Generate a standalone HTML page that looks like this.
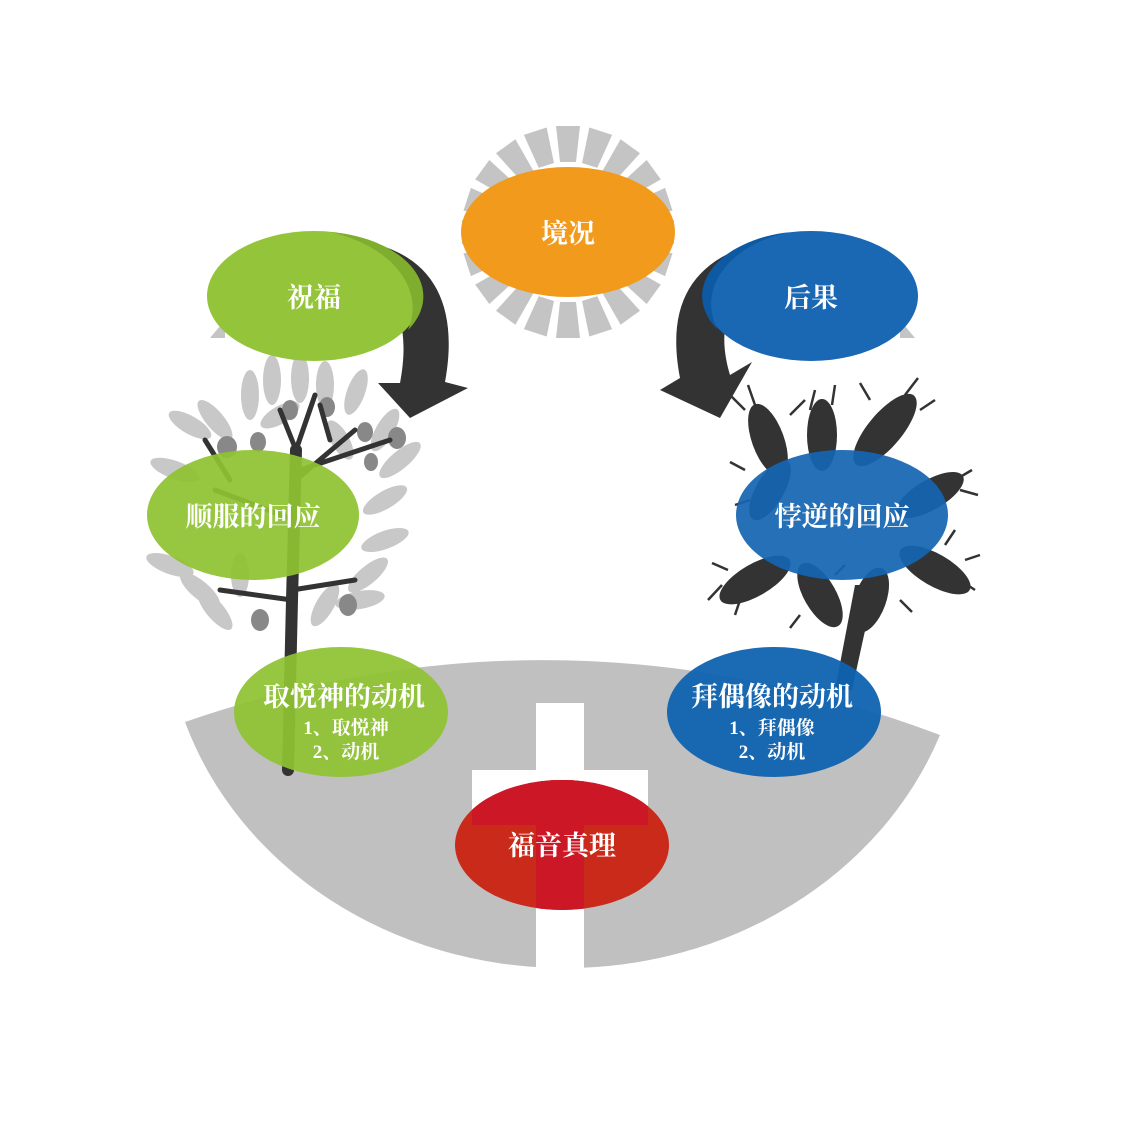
<!DOCTYPE html>
<html><head><meta charset="utf-8"><style>
html,body{margin:0;padding:0;background:#fff}
svg{display:block}
text{font-family:"Liberation Serif","Noto Serif CJK SC","Noto Sans CJK SC",serif;fill:#fff;text-anchor:middle;font-weight:bold}
</style></head><body>
<svg width="1125" height="1125" viewBox="0 0 1125 1125" xmlns="http://www.w3.org/2000/svg">
<defs><clipPath id="rc"><ellipse cx="562" cy="845" rx="107" ry="65"/></clipPath></defs>
<!-- bowl -->
<path d="M185,722 Q560,592 940,735 A400,360 0 0 1 562,968 A400,360 0 0 1 185,722 Z" fill="#c0c0c0"/>
<rect x="536" y="703" width="48" height="270" fill="#fff"/>
<rect x="472" y="770" width="176" height="60" fill="#fff"/>
<!-- sun rays -->
<g fill="#c4c4c4" transform="translate(568,232)">
<g id="ray"><polygon points="-8,-70 8,-70 12,-106 -12,-106"/></g>
<use href="#ray" transform="rotate(18)"/><use href="#ray" transform="rotate(36)"/><use href="#ray" transform="rotate(54)"/><use href="#ray" transform="rotate(72)"/><use href="#ray" transform="rotate(90)"/><use href="#ray" transform="rotate(108)"/><use href="#ray" transform="rotate(126)"/><use href="#ray" transform="rotate(144)"/><use href="#ray" transform="rotate(162)"/><use href="#ray" transform="rotate(180)"/><use href="#ray" transform="rotate(198)"/><use href="#ray" transform="rotate(216)"/><use href="#ray" transform="rotate(234)"/><use href="#ray" transform="rotate(252)"/><use href="#ray" transform="rotate(270)"/><use href="#ray" transform="rotate(288)"/><use href="#ray" transform="rotate(306)"/><use href="#ray" transform="rotate(324)"/><use href="#ray" transform="rotate(342)"/>
</g>
<!-- gray triangles behind top side ellipses -->
<polygon points="210,338 225,320 225,338" fill="#c4c4c4"/>
<polygon points="915,338 900,320 900,338" fill="#c4c4c4"/>
<!-- arrows -->
<path d="M355,240 C430,250 460,300 445,382 L468,388 L410,418 L378,383 L400,383 C410,330 400,290 355,265 Z" fill="#333"/>
<path d="M770,240 C695,255 665,300 680,378 L660,390 L720,418 L752,362 L730,375 C715,325 730,290 770,265 Z" fill="#333"/>
<!-- left tree -->
<g fill="#c8c8c8">
<ellipse cx="250" cy="395" rx="9" ry="25"/><ellipse cx="272" cy="380" rx="9" ry="25"/><ellipse cx="300" cy="378" rx="9" ry="25"/><ellipse cx="325" cy="385" rx="9" ry="24"/><ellipse cx="356" cy="392" rx="9" ry="24" transform="rotate(20 356 392)"/>
<ellipse cx="215" cy="420" rx="9" ry="25" transform="rotate(-40 215 420)"/><ellipse cx="190" cy="425" rx="9" ry="24" transform="rotate(-60 190 425)"/><ellipse cx="175" cy="470" rx="9" ry="26" transform="rotate(-70 175 470)"/>
<ellipse cx="385" cy="430" rx="9" ry="24" transform="rotate(30 385 430)"/><ellipse cx="400" cy="460" rx="9" ry="26" transform="rotate(50 400 460)"/><ellipse cx="385" cy="500" rx="9" ry="25" transform="rotate(60 385 500)"/><ellipse cx="385" cy="540" rx="9" ry="25" transform="rotate(70 385 540)"/><ellipse cx="368" cy="575" rx="9" ry="25" transform="rotate(50 368 575)"/><ellipse cx="360" cy="600" rx="9" ry="25" transform="rotate(80 360 600)"/>
<ellipse cx="170" cy="565" rx="9" ry="25" transform="rotate(-70 170 565)"/><ellipse cx="200" cy="590" rx="9" ry="25" transform="rotate(-50 200 590)"/><ellipse cx="215" cy="610" rx="9" ry="25" transform="rotate(-40 215 610)"/><ellipse cx="240" cy="575" rx="9" ry="22"/><ellipse cx="325" cy="605" rx="9" ry="24" transform="rotate(30 325 605)"/>
<ellipse cx="280" cy="415" rx="9" ry="22" transform="rotate(60 280 415)"/><ellipse cx="340" cy="440" rx="9" ry="22" transform="rotate(-30 340 440)"/>
</g>
<g fill="#888"><ellipse cx="227" cy="447" rx="10" ry="11"/><ellipse cx="258" cy="442" rx="8" ry="10"/><ellipse cx="290" cy="410" rx="8" ry="10"/><ellipse cx="327" cy="407" rx="8" ry="10"/><ellipse cx="365" cy="432" rx="8" ry="10"/><ellipse cx="397" cy="438" rx="9" ry="11"/><ellipse cx="371" cy="462" rx="7" ry="9"/><ellipse cx="260" cy="620" rx="9" ry="11"/><ellipse cx="348" cy="605" rx="9" ry="11"/></g>
<g stroke="#333" fill="none" stroke-linecap="round">
<path d="M288,770 L292,600 L296,450" stroke-width="12"/>
<path d="M292,600 L220,590 M292,590 L355,580 M294,520 L215,490 M296,480 L355,430 M296,450 L280,410 M296,450 L315,395 M300,470 L390,440 M230,480 L205,440 M330,440 L320,405" stroke-width="5"/>
</g>
<!-- right cactus -->
<g fill="#333">
<path d="M835,690 L855,585 L875,585 L852,690 Z"/>
<ellipse cx="768" cy="440" rx="16" ry="38" transform="rotate(-20 768 440)"/>
<ellipse cx="822" cy="435" rx="15" ry="36"/>
<ellipse cx="885" cy="430" rx="17" ry="45" transform="rotate(40 885 430)"/>
<ellipse cx="930" cy="495" rx="15" ry="38" transform="rotate(60 930 495)"/>
<ellipse cx="755" cy="580" rx="16" ry="40" transform="rotate(60 755 580)"/>
<ellipse cx="935" cy="570" rx="16" ry="40" transform="rotate(-60 935 570)"/>
<ellipse cx="820" cy="595" rx="16" ry="36" transform="rotate(-30 820 595)"/>
<ellipse cx="870" cy="600" rx="16" ry="34" transform="rotate(20 870 600)"/>
<ellipse cx="770" cy="490" rx="14" ry="34" transform="rotate(30 770 490)"/>
</g>
<g stroke="#333" stroke-width="2.5">
<path d="M745,410 L730,395 M755,405 L748,385 M790,415 L805,400 M810,410 L815,390 M832,405 L835,385 M905,395 L918,378 M920,410 L935,400 M870,400 L860,383 M960,490 L978,495 M955,480 L972,470 M722,585 L708,600 M728,570 L712,563 M740,600 L735,615 M965,560 L980,555 M960,580 L975,590 M945,545 L955,530 M800,615 L790,628 M835,575 L845,565 M900,600 L912,612 M745,470 L730,462 M750,500 L735,505"/>
</g>
<!-- ellipses -->
<ellipse cx="568" cy="232" rx="107" ry="65" fill="#f29a1b"/>
<ellipse cx="314" cy="296" rx="107" ry="65" fill="#94c43a"/>
<path d="M330,232 A107,65 0 0 1 408,330 A120,80 0 0 0 330,232 Z" fill="#7fae2e"/>
<ellipse cx="811" cy="296" rx="107" ry="65" fill="#1a68b4"/>
<path d="M790,232 A107,65 0 0 0 718,330 A110,75 0 0 1 790,232 Z" fill="#0d5aa2"/>
<ellipse cx="253" cy="515" rx="106" ry="65" fill="#8fc233" fill-opacity="0.93"/>
<ellipse cx="842" cy="515" rx="106" ry="65" fill="#1665b2" fill-opacity="0.93"/>
<ellipse cx="341" cy="712" rx="107" ry="65" fill="#8fc233" fill-opacity="0.93"/>
<ellipse cx="774" cy="712" rx="107" ry="65" fill="#0f62b0" fill-opacity="0.95"/>
<ellipse cx="562" cy="845" rx="107" ry="65" fill="#c92a1a"/>
<g clip-path="url(#rc)" fill="#cc1826">
<rect x="536" y="770" width="48" height="150"/>
<rect x="472" y="770" width="176" height="55"/>
</g>
<!-- labels -->
<text x="568" y="243" font-size="27">境况</text>
<text x="314" y="307" font-size="27">祝福</text>
<text x="811" y="307" font-size="27">后果</text>
<text x="253" y="526" font-size="27">顺服的回应</text>
<text x="842" y="526" font-size="27">悖逆的回应</text>
<text x="344" y="706" font-size="27">取悦神的动机</text>
<text x="346" y="734" font-size="19">1、取悦神</text>
<text x="346" y="758" font-size="19">2、动机</text>
<text x="772" y="706" font-size="27">拜偶像的动机</text>
<text x="772" y="734" font-size="19">1、拜偶像</text>
<text x="772" y="758" font-size="19">2、动机</text>
<text x="562" y="855" font-size="27">福音真理</text>
</svg>
</body></html>
